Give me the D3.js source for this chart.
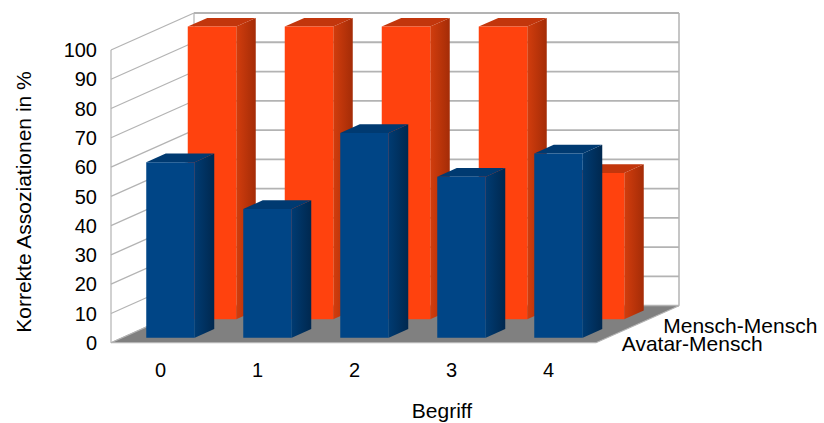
<!DOCTYPE html>
<html>
<head>
<meta charset="utf-8">
<script src="https://cdn.jsdelivr.net/npm/d3@7"></script>
<style>
  html, body { margin: 0; padding: 0; background: #fff; }
  svg { display: block; font-family: "Liberation Sans", Arial, sans-serif; }
</style>
</head>
<body>
<svg id="chart" width="824" height="423"></svg>
<script>
// Categories along the x axis, series along the depth axis (front to back)
const categories = ["0", "1", "2", "3", "4"];
const seriesNames = ["Avatar-Mensch", "Mensch-Mensch"];
const avatarMensch = [60, 44, 70, 55, 63];
const menschMensch = [100, 100, 100, 100, 50];
const yTicks = [0, 10, 20, 30, 40, 50, 60, 70, 80, 90, 100];
const yTitle = "Korrekte Assoziationen in %";
const xTitle = "Begriff";

const seriesValues = [avatarMensch, menschMensch];
const seriesColors = [
  { front: "#004586", top: "#003a71", sideA: "#003b72", sideB: "#00284f" },
  { front: "#ff420e", top: "#c2360c", sideA: "#d23d0d", sideB: "#a42c07" }
];

const svg = d3.select("#chart");

// Front plane scales
const x = d3.scaleBand().domain(categories).range([111, 596]).padding(0);
const y = d3.scaleLinear().domain([0, 100]).range([342.7, 50]);
// Depth axis: 0 = front plane, 1 = back wall
const z = d3.scaleBand().domain(seriesNames).range([0, 1]).padding(0);
const DX = 83, DY = -37;
const proj = (px, v, d) => [px + d * DX, y(v) + d * DY];

const barW = x.bandwidth() * 0.5;
const barD = 0.235;

const defs = svg.append("defs");
seriesColors.forEach((c, i) => {
  const g = defs.append("linearGradient").attr("id", "side" + i)
    .attr("x1", "0%").attr("x2", "100%").attr("y1", "0%").attr("y2", "0%");
  g.append("stop").attr("offset", "0%").attr("stop-color", c.sideA);
  g.append("stop").attr("offset", "100%").attr("stop-color", c.sideB);
});

const poly = pts => "M" + pts.map(p => p.join(",")).join("L") + "Z";
const grid = "#b3b3b3";

// Walls
const [x0, x1] = x.range();
svg.append("path").attr("fill", "#fff").attr("stroke", "none")
  .attr("d", poly([proj(x0, 0, 0), proj(x0, 100, 0), proj(x0, 100, 1), proj(x1, 100, 1), proj(x1, 0, 1), proj(x0, 0, 1)]));

const gridG = svg.append("g").attr("fill", "none").attr("stroke", grid);
yTicks.forEach(t => {
  const a = proj(x0, t, 0), b = proj(x0, t, 1), c = proj(x1, t, 1);
  gridG.append("path").attr("stroke-width", 1.2).attr("d", `M${a}L${b}`);
  gridG.append("path").attr("stroke-width", 1.8).attr("d", `M${b}L${c}`);
});
gridG.append("path").attr("stroke-width", 1.2).attr("d", `M${proj(x0, 0, 0)}L${proj(x0, 100, 0)}`);
gridG.append("path").attr("stroke-width", 1.2).attr("d", `M${proj(x0, 0, 1)}L${proj(x0, 100, 1)}`);
gridG.append("path").attr("stroke-width", 1.5).attr("d", `M${proj(x1, 0, 1)}L${proj(x1, 100, 1)}`);

// Floor
svg.append("path").attr("fill", "#808080").attr("stroke", grid).attr("stroke-width", 1.2)
  .attr("d", poly([proj(x0, 0, 0), proj(x1, 0, 0), proj(x1, 0, 1), proj(x0, 0, 1)]));

// Bars, back row first
const bars = svg.append("g");
for (let s = seriesNames.length - 1; s >= 0; s--) {
  const zc = z(seriesNames[s]) + z.bandwidth() / 2;
  const zf = zc - barD / 2, zb = zc + barD / 2;
  const col = seriesColors[s];
  categories.forEach((cat, i) => {
    const v = seriesValues[s][i];
    const cx = x(cat) + x.bandwidth() / 2;
    const l = cx - barW / 2, r = cx + barW / 2;
    const g = bars.append("g");
    g.append("path").attr("fill", `url(#side${s})`)
      .attr("d", poly([proj(r, 0, zf), proj(r, v, zf), proj(r, v, zb), proj(r, 0, zb)]));
    g.append("path").attr("fill", col.top)
      .attr("d", poly([proj(l, v, zf), proj(r, v, zf), proj(r, v, zb), proj(l, v, zb)]));
    g.append("path").attr("fill", col.front)
      .attr("d", poly([proj(l, 0, zf), proj(r, 0, zf), proj(r, v, zf), proj(l, v, zf)]));
  });
}

// Y tick labels
svg.append("g").attr("font-size", 20).attr("fill", "#000").attr("text-anchor", "end")
  .selectAll("text").data(yTicks).join("text")
  .attr("x", 97).attr("y", d => y(d)).attr("dy", "0.36em").text(d => d);

// X tick labels
svg.append("g").attr("font-size", 20).attr("fill", "#000").attr("text-anchor", "middle")
  .selectAll("text").data(categories).join("text")
  .attr("x", d => x(d) + x.bandwidth() / 2 + 1).attr("y", 377).text(d => d);

// Depth axis labels
svg.append("g").attr("font-size", 21).attr("fill", "#000")
  .selectAll("text").data(seriesNames).join("text")
  .attr("x", d => proj(x1, 0, z(d) + z.bandwidth() / 2)[0] + 5)
  .attr("y", d => proj(x1, 0, z(d) + z.bandwidth() / 2)[1] + 18)
  .text(d => d);

// Axis titles
svg.append("text").attr("font-size", 21).attr("text-anchor", "middle")
  .attr("x", 442).attr("y", 418).text(xTitle);
svg.append("text").attr("font-size", 21).attr("text-anchor", "middle")
  .attr("transform", "translate(31,202) rotate(-90)").text(yTitle);
</script>
</body>
</html>
